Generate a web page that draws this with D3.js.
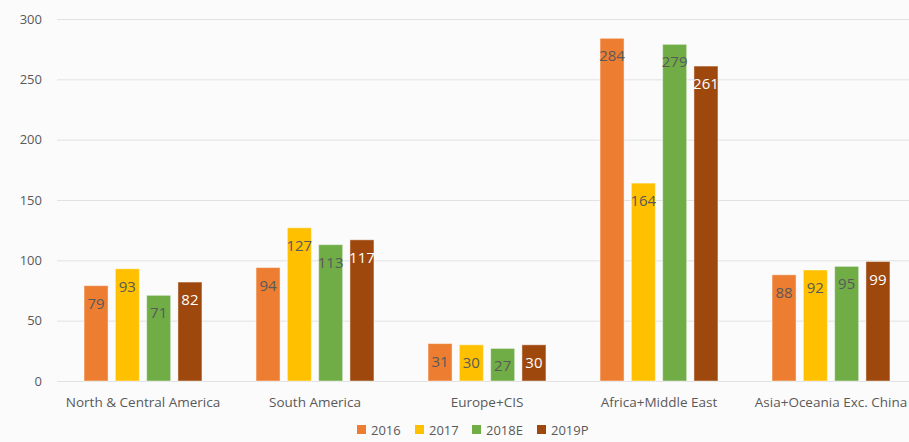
<!DOCTYPE html>
<html>
<head>
<meta charset="utf-8">
<script src="https://cdn.jsdelivr.net/npm/d3@7"></script>
<style>
  html, body { margin: 0; padding: 0; background: #fbfbfb; }
  svg { display: block; font-family: "Open Sans", "Liberation Sans", sans-serif; }
</style>
</head>
<body>
<script>
const categories = ["North & Central America", "South America", "Europe+CIS", "Africa+Middle East", "Asia+Oceania Exc. China"];
const seriesNames = ["2016", "2017", "2018E", "2019P"];
const v2016 = [79, 94, 31, 284, 88];
const v2017 = [93, 127, 30, 164, 92];
const v2018 = [71, 113, 27, 279, 95];
const v2019 = [82, 117, 30, 261, 99];
const colors = ["#ed7d31", "#ffc000", "#70ad47", "#9e480e"];
const labelColors = ["#595959", "#595959", "#595959", "#ffffff"];
const yTicks = [0, 50, 100, 150, 200, 250, 300];

const allSeries = [v2016, v2017, v2018, v2019];

const W = 909, H = 442;
const svg = d3.select("body").append("svg")
    .attr("width", W)
    .attr("height", H);

svg.append("rect").attr("width", W).attr("height", H).attr("fill", "#fbfbfb");

const x0 = d3.scaleBand()
    .domain(categories)
    .range([57, 917])
    .paddingInner(0)
    .paddingOuter(0);

const x1 = d3.scaleBand()
    .domain(seriesNames)
    .range([0, x0.bandwidth()])
    .paddingInner(0.233)
    .paddingOuter(0.864);

const y = d3.scaleLinear()
    .domain([0, 300])
    .range([381, 19]);

// gridlines
svg.append("g")
  .selectAll("line")
  .data(yTicks)
  .join("line")
    .attr("x1", 57)
    .attr("x2", W)
    .attr("y1", d => y(d) + 0.5)
    .attr("y2", d => y(d) + 0.5)
    .attr("stroke", "#e2e2e2")
    .attr("stroke-width", 1);

// y labels
svg.append("g")
  .selectAll("text")
  .data(yTicks)
  .join("text")
    .attr("x", 42)
    .attr("y", d => y(d))
    .attr("dy", "0.35em")
    .attr("text-anchor", "end")
    .attr("fill", "#595959")
    .style("font-size", "13px")
    .text(d => d);

// bars
const groups = svg.append("g")
  .selectAll("g")
  .data(categories)
  .join("g")
    .attr("transform", d => `translate(${x0(d)},0)`);

groups.selectAll("rect")
  .data((c, i) => seriesNames.map((s, j) => ({ s, j, v: allSeries[j][i] })))
  .join("rect")
    .attr("x", d => x1(d.s))
    .attr("y", d => y(d.v))
    .attr("width", x1.bandwidth())
    .attr("height", d => y(0) - y(d.v))
    .attr("fill", d => colors[d.j])
    .attr("stroke", "#ffffff")
    .attr("stroke-opacity", 0.45)
    .attr("stroke-width", 1);

groups.selectAll("text")
  .data((c, i) => seriesNames.map((s, j) => ({ s, j, v: allSeries[j][i] })))
  .join("text")
    .attr("x", d => x1(d.s) + x1.bandwidth() / 2)
    .attr("y", d => y(d.v) + 23)
    .attr("text-anchor", "middle")
    .attr("fill", d => labelColors[d.j])
    .style("font-size", "15px")
    .text(d => d.v);

// category labels
svg.append("g")
  .selectAll("text")
  .data(categories)
  .join("text")
    .attr("x", d => x0(d) + x0.bandwidth() / 2)
    .attr("y", 402)
    .attr("dy", "0.35em")
    .attr("text-anchor", "middle")
    .attr("fill", "#595959")
    .style("font-size", "13.5px")
    .text(d => d);

// legend
const legendX = [357, 415, 472, 537];
const legend = svg.append("g")
  .selectAll("g")
  .data(seriesNames)
  .join("g")
    .attr("transform", (d, i) => `translate(${legendX[i]},430)`);

legend.append("rect")
    .attr("x", 0)
    .attr("y", -5)
    .attr("width", 9)
    .attr("height", 9)
    .attr("fill", (d, i) => colors[i]);

legend.append("text")
    .attr("x", 14)
    .attr("y", 0)
    .attr("dy", "0.35em")
    .attr("fill", "#595959")
    .style("font-size", "13px")
    .text(d => d);
</script>
</body>
</html>
